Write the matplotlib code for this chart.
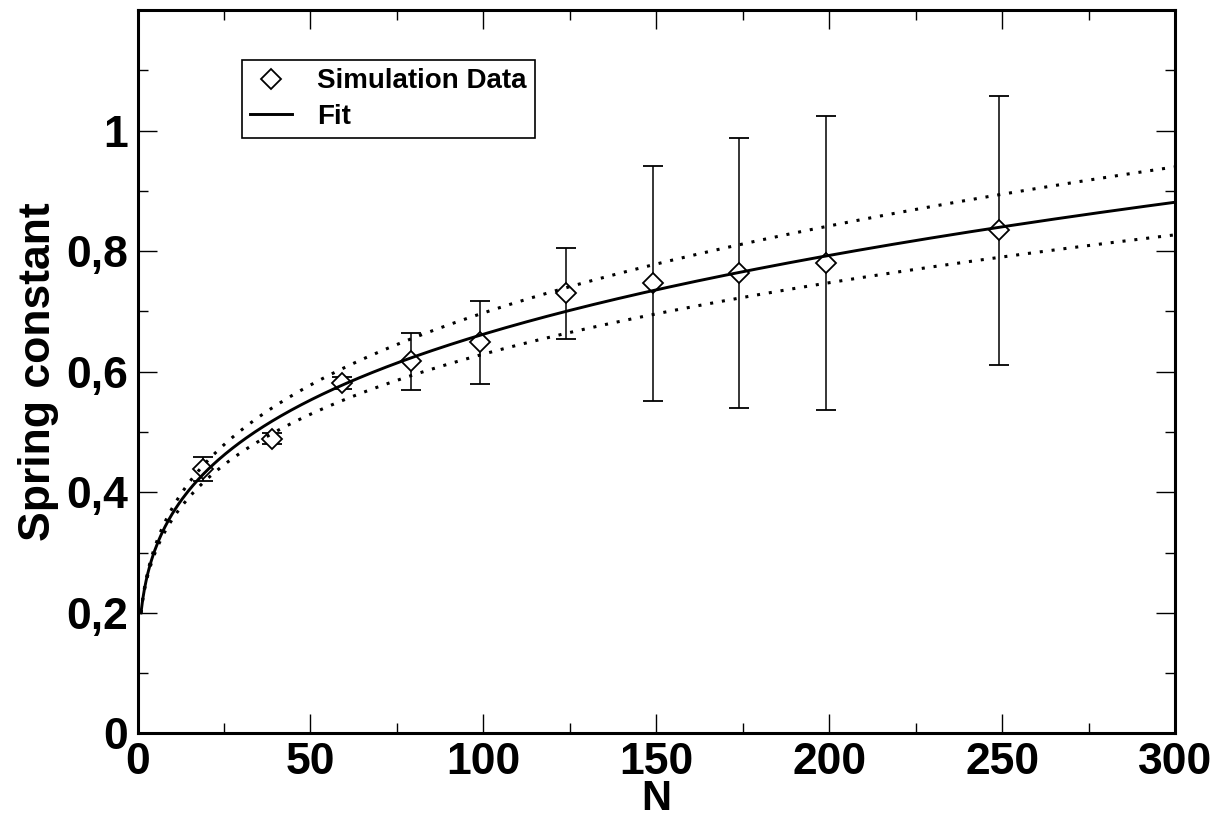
import numpy as np
import matplotlib
matplotlib.use("Agg")
import matplotlib.pyplot as plt
from matplotlib.lines import Line2D
from matplotlib.ticker import MultipleLocator, FixedLocator, FixedFormatter

plt.rcParams['font.family'] = ['Liberation Sans', 'DejaVu Sans']
plt.rcParams['font.weight'] = 'bold'

# ---- data ----
N = [19, 39, 59, 79, 99, 124, 149, 174, 199, 249]
spring = [0.438, 0.489, 0.582, 0.617, 0.649, 0.730, 0.747, 0.764, 0.781, 0.835]
spring_err = [0.020, 0.009, 0.010, 0.047, 0.069, 0.075, 0.195, 0.224, 0.244, 0.223]

# power-law fit k = a * N**b, plus the two bounding curves (dotted)
fit_a = 0.2
fit_b = 0.260
fit_b_hi = 0.2713
fit_b_lo = 0.2489
N_min, N_max = 1, 300

ytick_vals = [0, 0.2, 0.4, 0.6, 0.8, 1.0, 1.2]
ytick_labels = ["0", "0,2", "0,4", "0,6", "0,8", "1", ""]
xtick_vals = [0, 50, 100, 150, 200, 250, 300]

# ---- figure ----
fig = plt.figure(figsize=(12.18, 8.21), dpi=100)
ax = fig.add_axes([0.1129, 0.1066, 0.8521, 0.8812])

ax.errorbar(N, spring, yerr=spring_err, fmt='D', ms=10.3, mfc='white',
            mec='black', mew=1.3, ecolor='black', elinewidth=1.1,
            capsize=7.2, capthick=1.3, zorder=2)

n_curve = np.linspace(N_min, N_max, 600)
ax.plot(n_curve, fit_a * n_curve**fit_b, color='black', lw=2.1, zorder=3)
dots = (0, (1, 2.9))
ax.plot(n_curve, fit_a * n_curve**fit_b_hi, color='black', lw=2.2,
        linestyle=dots, zorder=3)
ax.plot(n_curve, fit_a * n_curve**fit_b_lo, color='black', lw=2.2,
        linestyle=dots, zorder=3)

ax.set_xlim(0, 300)
ax.set_ylim(0, 1.2)
ax.xaxis.set_major_locator(FixedLocator(xtick_vals))
ax.xaxis.set_minor_locator(MultipleLocator(25))
ax.yaxis.set_major_locator(FixedLocator(ytick_vals))
ax.yaxis.set_major_formatter(FixedFormatter(ytick_labels))
ax.yaxis.set_minor_locator(MultipleLocator(0.1))

for s in ax.spines.values():
    s.set_linewidth(2.2)
ax.tick_params(which='both', direction='in', top=True, right=True, width=1.0)
ax.tick_params(which='major', length=14.0)
ax.tick_params(which='minor', length=7.0)
ax.tick_params(axis='x', which='major', labelsize=32, pad=6)
ax.tick_params(axis='y', which='major', labelsize=32, pad=7)

ax.set_xlabel("N", fontsize=30, fontweight='bold', labelpad=-3)
ax.set_ylabel("Spring constant", fontsize=32, fontweight='bold', labelpad=5)

handles = [
    Line2D([], [], ls='none', marker='D', ms=10.3, mfc='white', mec='black', mew=1.3),
    Line2D([], [], color='black', lw=2.1),
]
leg = ax.legend(handles, ["Simulation Data", "Fit"], loc='upper left',
                bbox_to_anchor=(0.1004, 0.9309), borderaxespad=0,
                fontsize=20, frameon=True, fancybox=False, edgecolor='black',
                framealpha=1, handlelength=1.5, handletextpad=0.9,
                borderpad=0.3, labelspacing=0.35, numpoints=1)
leg.get_frame().set_linewidth(1.2)

fig.savefig("out.png", dpi=100)
